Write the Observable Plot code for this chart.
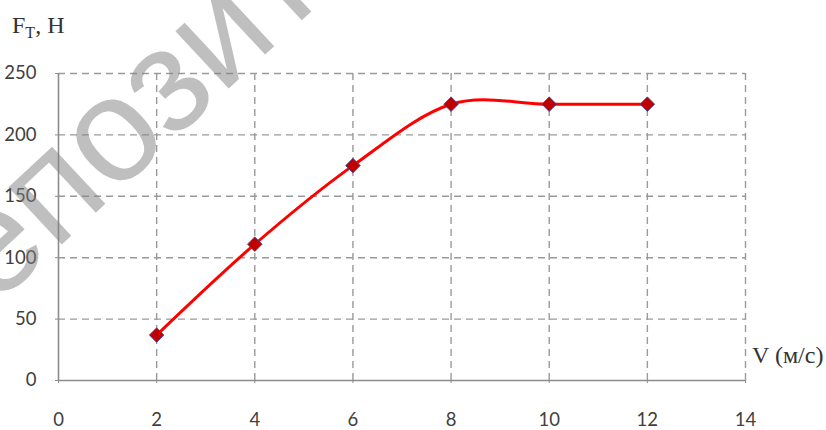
<!DOCTYPE html>
<html><head><meta charset="utf-8">
<script src="https://cdn.jsdelivr.net/npm/d3@7"></script>
<script src="https://cdn.jsdelivr.net/npm/@observablehq/plot@0.6"></script>
<style>body{margin:0;background:#fff} #chart{position:relative;width:826px;height:430px}</style>
</head><body><div id="chart"></div>
<script>
const speeds = [2, 4, 6, 8, 10, 12];
const forces = [37, 111, 175, 225, 225, 225];
const xTicks = [0, 2, 4, 6, 8, 10, 12, 14];
const yTicks = [0, 50, 100, 150, 200, 250];
const yTitleMain = "F";
const yTitleSub = "T";
const yTitleRest = ", H";
const xTitle = "V (м/с)";
const watermark = "Репозиторий БГТУ";

const data = speeds.map((v, i) => ({v, f: forces[i]}));
const gridStyle = {stroke: "#9a9a9a", strokeWidth: 1.4, strokeDasharray: "7,5"};
const axisStyle = {stroke: "#8c8c8c", strokeWidth: 1.6};

const plot = Plot.plot({
  width: 826, height: 430,
  marginLeft: 58, marginRight: 81, marginTop: 73, marginBottom: 50,
  style: {fontFamily: "Lato, 'Open Sans', sans-serif", fontSize: "18.5px", color: "#404040", background: "#fff"},
  x: {domain: [0, 14]},
  y: {domain: [0, 250]},
  marks: [
    Plot.ruleY(yTicks.filter(d => d > 0), gridStyle),
    Plot.ruleX(xTicks.filter(d => d > 0), gridStyle),
    Plot.ruleY([0], axisStyle),
    Plot.ruleX([0], axisStyle),
    Plot.axisX({ticks: xTicks, tickSize: 3, tickPadding: 29, label: null, stroke: "#8c8c8c", fill: "#404040", tickFormat: d => String(d)}),
    Plot.axisY({ticks: yTicks, tickSize: 3, tickPadding: 19, label: null, stroke: "#8c8c8c", fill: "#404040", tickFormat: d => String(d)}),
    Plot.line(data, {x: "v", y: "f", curve: "cardinal", stroke: "#ff0000", strokeWidth: 3}),
    Plot.dot(data, {x: "v", y: "f", symbol: "diamond2", r: 6.6, fill: "#c00000", stroke: "#3c4f9a", strokeWidth: 0.8})
  ]
});
document.getElementById("chart").appendChild(plot);

const svg = d3.select(plot);
// axis titles
const t1 = svg.append("text")
  .attr("x", 12).attr("y", 33)
  .attr("text-anchor", "start")
  .attr("font-family", "'Liberation Serif', serif")
  .attr("font-size", 24).attr("fill", "#333");
t1.append("tspan").text(yTitleMain);
t1.append("tspan").attr("font-size", 16).attr("dy", 5).text(yTitleSub);
t1.append("tspan").attr("dy", -5).text(yTitleRest);

svg.append("text")
  .attr("x", 752).attr("y", 363)
  .attr("text-anchor", "start")
  .attr("font-family", "'Liberation Serif', serif")
  .attr("font-size", 24).attr("fill", "#333")
  .text(xTitle);

// watermark, placed so that its letter "о" sits where the reference shows it
const wmSize = 148;
const wmAngle = -43;
const wm = svg.append("text")
  .attr("x", 0).attr("y", 0)
  .attr("text-anchor", "start")
  .attr("font-family", "'Liberation Sans', Arial, sans-serif")
  .attr("font-size", wmSize)
  .attr("fill", "#808080").attr("fill-opacity", 0.5)
  .text(watermark);
(function placeWatermark() {
  const node = wm.node();
  const e = node.getExtentOfChar(3);
  const cx = e.x + e.width / 2, cy = -0.27 * wmSize;
  const th = wmAngle * Math.PI / 180;
  const rx = cx * Math.cos(th) - cy * Math.sin(th);
  const ry = cx * Math.sin(th) + cy * Math.cos(th);
  wm.attr("transform", `translate(${115 - rx},${140 - ry}) rotate(${wmAngle})`);
})();
</script>
</body></html>
